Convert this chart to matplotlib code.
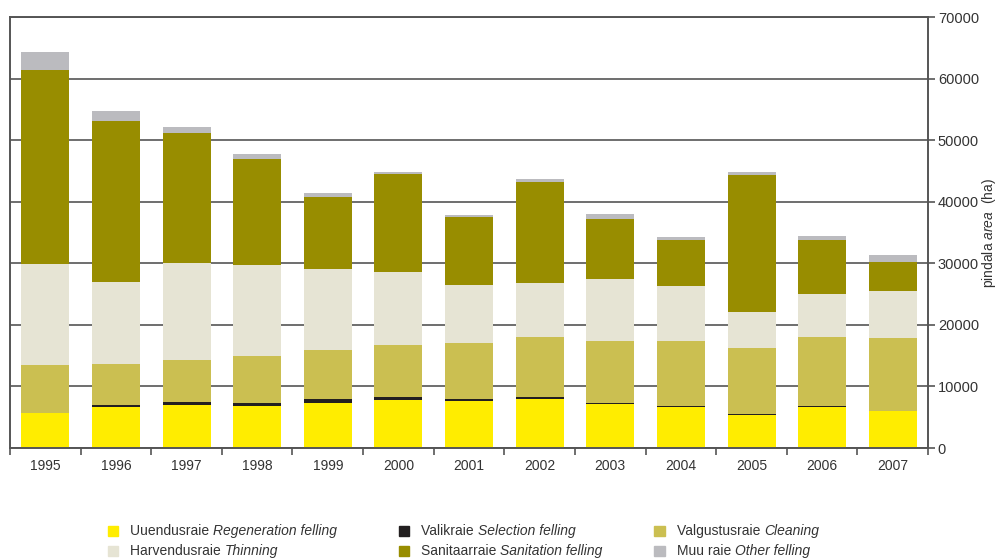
import numpy as np
import matplotlib.pyplot as plt
from matplotlib.patches import Rectangle

plt.rcParams['font.family'] = ['Liberation Sans', 'DejaVu Sans']
plt.rcParams['mathtext.fontset'] = 'custom'
plt.rcParams['mathtext.rm'] = 'Liberation Sans'
plt.rcParams['mathtext.it'] = 'Liberation Sans:italic'

years = ['1995', '1996', '1997', '1998', '1999', '2000', '2001',
         '2002', '2003', '2004', '2005', '2006', '2007']

# felling area by type (ha)
regeneration = [5700, 6700, 7000, 6850, 7300, 7800, 7650, 7950, 7150, 6650, 5350, 6650, 6000]
selection = [0, 300, 450, 450, 650, 500, 300, 300, 150, 250, 150, 150, 0]
cleaning = [7750, 6650, 6800, 7600, 7950, 8450, 9100, 9750, 10050, 10450, 10700, 11200, 11800]
thinning = [16400, 13300, 15750, 14750, 13100, 11800, 9400, 8750, 10100, 8950, 5850, 7000, 7650]
sanitation = [31500, 26150, 21150, 17250, 11700, 15950, 11050, 16450, 9750, 7500, 22250, 8750, 4700]
other = [2900, 1650, 950, 800, 650, 350, 350, 500, 800, 500, 500, 650, 1150]

series = [
    (regeneration, '#FFED00', 'Uuendusraie', 'Regeneration felling'),
    (selection, '#231F20', 'Valikraie', 'Selection felling'),
    (cleaning, '#CBBF51', 'Valgustusraie', 'Cleaning'),
    (thinning, '#E6E4D4', 'Harvendusraie', 'Thinning'),
    (sanitation, '#988D00', 'Sanitaarraie', 'Sanitation felling'),
    (other, '#BBBBBF', 'Muu raie', 'Other felling'),
]

text_col = '#333333'
line_col = '#555555'

fig = plt.figure(figsize=(9.99, 5.58), dpi=100)
ax = fig.add_axes([0.010, 0.197, 0.919, 0.7725])

x = np.arange(len(years))
bottom = np.zeros(len(years))
for vals, col, et, en in series:
    ax.bar(x, vals, width=0.68, bottom=bottom, color=col, linewidth=0, zorder=2)
    bottom += np.array(vals)

ax.set_xlim(-0.5, len(years) - 0.5)
ax.set_ylim(0, 70000)
ax.set_yticks(np.arange(0, 70001, 10000))
ax.yaxis.tick_right()
ax.grid(axis='y', color=line_col, linewidth=1.2, zorder=0)
ax.set_axisbelow(True)

ax.set_xticks(x)
ax.set_xticklabels(years)
ax.set_xticks(np.arange(-0.5, len(years)), minor=True)
ax.tick_params(axis='x', which='major', length=0, pad=8, labelsize=10, labelcolor=text_col)
ax.tick_params(axis='x', which='minor', length=5, width=1.2, color=line_col, direction='out')
ax.tick_params(axis='y', length=5, width=1.2, color=line_col, pad=2, labelsize=10.5, labelcolor=text_col)

for s in ax.spines.values():
    s.set_color(line_col)
    s.set_linewidth(1.4)

# y-axis label with italic English word
fig.text(0.9895, 0.582, 'pindala $\\it{area}$  (ha)', rotation=90, ha='center', va='center',
         fontsize=10, color=text_col)

# legend built by hand: Estonian name upright, English name italic
col_x = [0.113, 0.404, 0.660]
row_y = [0.048, 0.012]
fig.canvas.draw()
renderer = fig.canvas.get_renderer()
for i, (vals, col, et, en) in enumerate(series):
    cx = col_x[i % 3]
    cy = row_y[i // 3]
    fig.patches.append(Rectangle((cx - 0.005, cy - 0.009), 0.0105, 0.019,
                                 transform=fig.transFigure, color=col, figure=fig))
    t1 = fig.text(cx + 0.0175, cy, et + ' ', ha='left', va='center', fontsize=10, color=text_col)
    bb = t1.get_window_extent(renderer)
    fig.text(bb.x1 / fig.bbox.width, cy, en, ha='left', va='center', fontsize=10,
             color=text_col, style='italic')

fig.savefig('out.png', dpi=100)
